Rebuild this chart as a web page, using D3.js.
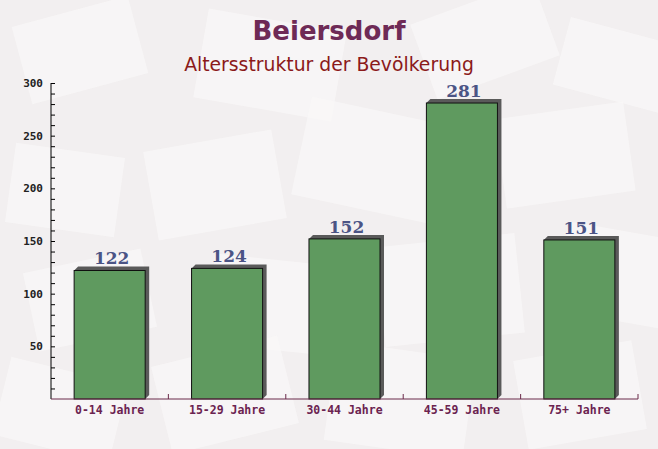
<!DOCTYPE html>
<html>
<head>
<meta charset="utf-8">
<script src="https://cdn.jsdelivr.net/npm/d3@7"></script>
<style>
html,body{margin:0;padding:0;background:#f3f0f1;}
svg{display:block;}
</style>
</head>
<body>
<script>
const categories = ["0-14 Jahre", "15-29 Jahre", "30-44 Jahre", "45-59 Jahre", "75+ Jahre"];
const values = [122, 124, 152, 281, 151];
const yTicks = [50, 100, 150, 200, 250, 300];
const titleText = "Beiersdorf";
const subtitleText = "Altersstruktur der Bevölkerung";

const W = 658, H = 449;
const svg = d3.select("body").append("svg").attr("width", W).attr("height", H);

// background
svg.append("rect").attr("width", W).attr("height", H).attr("fill", "#f2eff0");
const deco = [
  [20,10,120,80,-15],[200,20,140,90,10],[420,0,130,80,-20],[560,30,110,70,15],
  [10,150,110,80,8],[150,140,130,90,-10],[300,110,140,100,12],[500,110,130,90,-8],
  [30,260,120,80,-12],[210,260,130,90,6],[380,240,140,100,-6],[560,230,110,90,10],
  [0,370,120,80,14],[160,350,130,90,-14],[330,350,140,100,8],[520,350,120,90,-10]
];
const dg = svg.append("g");
deco.forEach(d => {
  dg.append("rect").attr("x", d[0]).attr("y", d[1]).attr("width", d[2]).attr("height", d[3])
    .attr("fill", "#faf8f8").attr("opacity", 0.7)
    .attr("transform", `rotate(${d[4]},${d[0]+d[2]/2},${d[1]+d[3]/2})`);
});

const x0 = 51, x1 = 638, yTop = 83, yBot = 399;
const x = d3.scaleBand().domain(categories).range([x0, x1]).paddingInner(0.395).paddingOuter(0.197);
const y = d3.scaleLinear().domain([0, 300]).range([yBot, yTop]);

// title
svg.append("text").attr("x", 329).attr("y", 40).attr("text-anchor", "middle")
  .attr("font-family", "DejaVu Sans, Verdana, sans-serif").attr("font-weight", "bold")
  .attr("font-size", 26).attr("fill", "#6e2a56").text(titleText);
svg.append("text").attr("x", 329).attr("y", 71).attr("text-anchor", "middle")
  .attr("font-family", "DejaVu Sans, Verdana, sans-serif")
  .attr("font-size", 18.8).attr("fill", "#8b1a1a").text(subtitleText);

// shadows + bars
const off = 4;
const bars = svg.append("g");
bars.selectAll("path.shadow").data(values).enter().append("path")
  .attr("class", "shadow")
  .attr("fill", "#5a5a5a")
  .attr("d", (v, i) => {
    const bx = x(categories[i]), bw = x.bandwidth(), by = y(v), bb = y(0);
    return `M${bx},${by} L${bx+off},${by-off} L${bx+bw+off},${by-off} L${bx+bw+off},${bb-off} L${bx+bw},${bb} Z`;
  });
bars.selectAll("rect.bar").data(values).enter().append("rect")
  .attr("class", "bar")
  .attr("x", (v, i) => x(categories[i]))
  .attr("y", v => y(v))
  .attr("width", x.bandwidth())
  .attr("height", v => y(0) - y(v))
  .attr("fill", "#5f9a5f").attr("stroke", "#111").attr("stroke-width", 1);

// value labels
svg.selectAll("text.val").data(values).enter().append("text")
  .attr("class", "val")
  .attr("x", (v, i) => x(categories[i]) + x.bandwidth() / 2 + 2)
  .attr("y", v => y(v) - 6)
  .attr("text-anchor", "middle")
  .attr("font-family", "DejaVu Serif, serif").attr("font-weight", "bold")
  .attr("font-size", 17).attr("fill", "#4b5485")
  .text(v => v);

// y axis
const yAxis = d3.axisRight(y).tickValues(d3.range(10, 301, 10)).tickSize(4).tickFormat("");
const ya = svg.append("g").attr("transform", `translate(${x0},0)`).call(yAxis);
ya.select(".domain").attr("stroke", "#000").attr("d", `M0,${yTop}H0V${yBot}`);
ya.selectAll(".tick line").attr("stroke", "#000");
svg.selectAll("text.ylab").data(yTicks).enter().append("text")
  .attr("class", "ylab")
  .attr("x", x0 - 8).attr("y", v => y(v) + 4)
  .attr("text-anchor", "end")
  .attr("font-family", "DejaVu Sans Mono, monospace").attr("font-weight", "bold")
  .attr("font-size", 11).attr("fill", "#222")
  .text(v => v);

// x axis
const xa = svg.append("g").attr("transform", `translate(0,${yBot})`);
xa.append("line").attr("x1", x0).attr("x2", x1).attr("y1", 0).attr("y2", 0).attr("stroke", "#6b2a4a");
const bounds = categories.map((c, i) => x(c) + x.bandwidth() + x.step() * x.paddingInner() / 2).slice(0, -1).concat([x1]);
xa.selectAll("line.xt").data(bounds).enter().append("line")
  .attr("class", "xt").attr("x1", d => d).attr("x2", d => d).attr("y1", 0).attr("y2", -5)
  .attr("stroke", "#6b2a4a");
xa.selectAll("text.xlab").data(categories).enter().append("text")
  .attr("class", "xlab")
  .attr("x", c => x(c) + x.bandwidth() / 2).attr("y", 15)
  .attr("text-anchor", "middle")
  .attr("font-family", "DejaVu Sans Mono, monospace").attr("font-weight", "bold")
  .attr("font-size", 11.5).attr("fill", "#6b2350")
  .text(c => c);
</script>
</body>
</html>
